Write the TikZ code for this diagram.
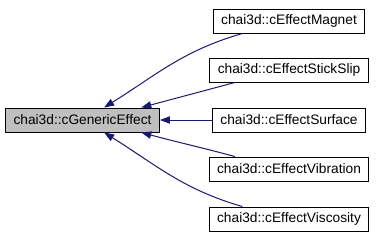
\documentclass[tikz,border=0pt]{standalone}
\usepackage{fontspec}
\setmainfont{Liberation Sans}
\usepackage{xcolor}
\usetikzlibrary{arrows.meta,positioning}

\definecolor{edgeblue}{HTML}{191970}
\definecolor{basegray}{HTML}{BFBFBF}

\begin{document}
\begin{tikzpicture}[
    x=0.75pt, y=0.75pt,
    every node/.style = {draw, rectangle, line width=0.75pt, minimum height=18pt,
      inner xsep=6pt, font=\fontsize{10.3}{12}\selectfont},
    base/.style = {fill=basegray},
    derived/.style = {fill=white},
    edge/.style = {draw=edgeblue, line width=0.75pt,
      -{Triangle[length=7.5pt,width=5.5pt]}}
  ]
  \useasboundingbox (0,0) rectangle (377,240);

  % base class
  \node[base] (generic) at (82.5,120) {chai3d::cGenericEffect};

  % derived classes
  \node[derived] (magnet)    at (289,219) {chai3d::cEffectMagnet};
  \node[derived] (stickslip) at (289,170) {chai3d::cEffectStickSlip};
  \node[derived] (surface)   at (289,120) {chai3d::cEffectSurface};
  \node[derived] (vibration) at (289,71)  {chai3d::cEffectVibration};
  \node[derived] (viscosity) at (289,21)  {chai3d::cEffectViscosity};

  % inheritance
  \draw[edge] (magnet.195) to[out=196, in=32] (generic.30);
  \draw[edge] (stickslip.193) to[out=195, in=15] (generic.12);
  \draw[edge] (surface.west) -- (generic.east);
  \draw[edge] (vibration.167) to[out=165, in=-15] (generic.-12);
  \draw[edge] (viscosity.165) to[out=164, in=-32] (generic.-30);
\end{tikzpicture}
\end{document}
